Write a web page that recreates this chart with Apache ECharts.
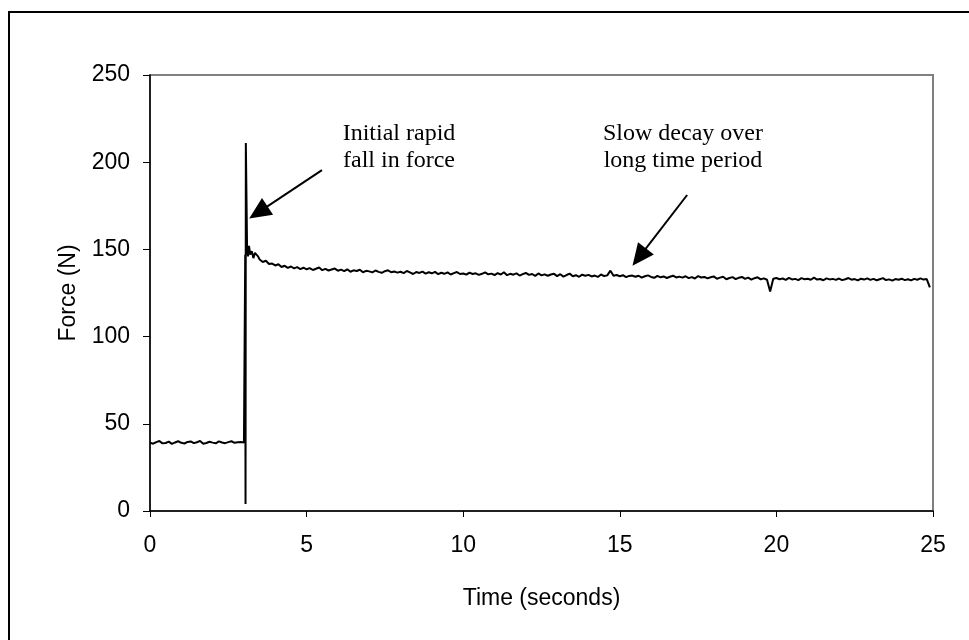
<!DOCTYPE html>
<html>
<head>
<meta charset="utf-8">
<script src="https://cdn.jsdelivr.net/npm/echarts@6/dist/echarts.min.js"></script>
<style>
html,body{margin:0;padding:0;background:#fff;}
#chart{width:969px;height:640px;}
</style>
</head>
<body>
<div id="chart"></div>
<script>
// ---- data ----
var xTicks = [0, 5, 10, 15, 20, 25];
var yTicks = [0, 50, 100, 150, 200, 250];

// baseline before loading (0 - 3.0 s)
var baseTimes = [0.0,0.1,0.2,0.3,0.4,0.5,0.6,0.7,0.8,0.9,1.0,1.1,1.2,1.3,1.4,1.5,1.6,1.7,1.8,1.9,2.0,2.1,2.2,2.3,2.4,2.5,2.6,2.7,2.8,2.9,3.0];
var baseForce = [39.2,38.6,39.5,40.1,38.8,39.0,39.8,38.5,39.3,40.0,39.1,38.7,39.6,39.9,38.9,39.4,40.2,38.6,39.0,39.7,39.2,38.8,39.9,39.3,38.9,39.5,40.0,39.1,39.4,39.6,39.3];

// loading spike and initial rapid fall
var spikeTimes = [3.03,3.04,3.05,3.06,3.10,3.13,3.16,3.20,3.25,3.30,3.35,3.40,3.45];
var spikeForce = [40.0,147.0,4.0,211.0,150.0,146.0,152.0,147.0,149.0,145.0,148.0,148.5,146.0];

// slow decay (3.5 - 24.9 s)
var decayTimes = [
3.5,3.6,3.7,3.8,3.9,
4.0,4.1,4.2,4.3,4.4,4.5,4.6,4.7,4.8,4.9,
5.0,5.1,5.2,5.3,5.4,5.5,5.6,5.7,5.8,5.9,
6.0,6.1,6.2,6.3,6.4,6.5,6.6,6.7,6.8,6.9,
7.0,7.1,7.2,7.3,7.4,7.5,7.6,7.7,7.8,7.9,
8.0,8.1,8.2,8.3,8.4,8.5,8.6,8.7,8.8,8.9,
9.0,9.1,9.2,9.3,9.4,9.5,9.6,9.7,9.8,9.9,
10.0,10.1,10.2,10.3,10.4,10.5,10.6,10.7,10.8,10.9,
11.0,11.1,11.2,11.3,11.4,11.5,11.6,11.7,11.8,11.9,
12.0,12.1,12.2,12.3,12.4,12.5,12.6,12.7,12.8,12.9,
13.0,13.1,13.2,13.3,13.4,13.5,13.6,13.7,13.8,13.9,
14.0,14.1,14.2,14.3,14.4,14.5,14.6,14.7,14.8,14.9,
15.0,15.1,15.2,15.3,15.4,15.5,15.6,15.7,15.8,15.9,
16.0,16.1,16.2,16.3,16.4,16.5,16.6,16.7,16.8,16.9,
17.0,17.1,17.2,17.3,17.4,17.5,17.6,17.7,17.8,17.9,
18.0,18.1,18.2,18.3,18.4,18.5,18.6,18.7,18.8,18.9,
19.0,19.1,19.2,19.3,19.4,19.5,19.6,19.7,19.8,19.9,
20.0,20.1,20.2,20.3,20.4,20.5,20.6,20.7,20.8,20.9,
21.0,21.1,21.2,21.3,21.4,21.5,21.6,21.7,21.8,21.9,
22.0,22.1,22.2,22.3,22.4,22.5,22.6,22.7,22.8,22.9,
23.0,23.1,23.2,23.3,23.4,23.5,23.6,23.7,23.8,23.9,
24.0,24.1,24.2,24.3,24.4,24.5,24.6,24.7,24.8,24.9];
var decayForce = [
144.2,142.8,143.5,141.6,141.9,
140.8,141.5,139.9,140.6,139.4,140.2,139.1,139.8,138.7,139.5,
138.6,139.3,138.2,138.9,139.6,138.1,138.8,137.9,138.5,139.0,
137.8,138.4,137.5,138.6,137.2,138.0,137.6,138.3,136.9,137.7,
137.4,136.8,137.9,137.1,136.6,137.5,138.0,136.9,137.3,136.7,
137.2,136.4,137.6,136.8,135.9,137.0,136.5,137.3,136.1,136.9,
136.3,137.1,135.8,136.6,136.0,136.8,135.6,136.4,137.0,135.9,
136.2,135.5,136.7,135.9,136.3,135.4,136.0,136.8,135.7,136.1,
135.3,136.4,135.6,136.9,135.2,136.0,135.5,136.3,135.0,135.8,
136.5,135.4,135.9,134.8,136.2,135.1,135.7,134.9,135.6,136.0,
134.7,135.8,134.4,135.3,136.1,134.6,135.2,134.3,135.5,134.9,
135.4,134.5,135.0,134.2,135.6,134.7,135.1,137.8,134.9,135.3,
134.6,135.2,134.1,134.8,135.0,134.3,134.9,133.8,134.6,135.1,
134.2,133.7,134.8,134.0,134.5,133.6,134.3,134.9,133.9,134.4,
133.8,134.6,133.5,134.1,133.3,134.7,133.9,134.2,133.4,134.0,
134.5,133.2,133.8,134.3,132.9,133.6,134.1,133.0,133.7,134.2,
133.1,133.8,132.7,133.5,134.0,132.8,133.4,132.6,125.8,133.2,
133.6,132.9,133.3,132.5,133.7,132.8,133.1,132.4,133.5,132.9,
133.2,132.6,133.8,132.7,133.0,132.3,133.4,132.8,133.1,132.5,
133.3,132.4,132.9,133.6,132.6,133.0,132.2,133.2,132.7,133.4,
132.5,133.1,132.3,132.9,133.5,132.4,132.8,132.1,133.0,132.6,
133.2,132.4,132.9,132.2,133.1,132.6,133.4,132.7,133.0,128.2];

// annotations: text and arrow end points in data units [time, force]
var note1Lines = ['Initial rapid', 'fall in force'];
var note2Lines = ['Slow decay over', 'long time period'];
var arrow1 = {from: [5.49, 195.5], to: [3.46, 171.2]};
var arrow2 = {from: [17.15, 181.2], to: [15.62, 145.6]};

// ---- build ----
function pairs(t, v) { var out = []; for (var i = 0; i < t.length; i++) out.push([t[i], v[i]]); return out; }
var seriesData = pairs(baseTimes, baseForce).concat(pairs(spikeTimes, spikeForce), pairs(decayTimes, decayForce));

var chart = echarts.init(document.getElementById('chart'), null, {renderer: 'canvas'});
var axisFont = {fontFamily: 'Liberation Sans, Arial, sans-serif', fontSize: 23, color: '#000'};

function arrowLine(a) {
  return [
    {coord: a.from, symbol: 'none'},
    {coord: a.to, symbol: 'triangle', symbolSize: [20, 22]}
  ];
}

chart.setOption({
  animation: false,
  backgroundColor: '#fff',
  grid: {left: 150, top: 75, right: 36, bottom: 129, show: true, borderColor: '#808080', borderWidth: 2, backgroundColor: 'transparent'},
  xAxis: {
    type: 'value', min: xTicks[0], max: xTicks[xTicks.length - 1], interval: 5,
    name: 'Time (seconds)', nameLocation: 'middle', nameGap: 76,
    nameTextStyle: axisFont,
    axisLine: {show: true, onZero: false, lineStyle: {color: '#000', width: 1.5}},
    axisTick: {show: true, inside: false, length: 6, lineStyle: {color: '#000', width: 1}},
    axisLabel: Object.assign({margin: 23}, axisFont),
    splitLine: {show: false}
  },
  yAxis: {
    type: 'value', min: yTicks[0], max: yTicks[yTicks.length - 1], interval: 50,
    name: 'Force (N)', nameLocation: 'middle', nameGap: 70,
    nameTextStyle: axisFont,
    axisLine: {show: true, onZero: false, lineStyle: {color: '#000', width: 1.5}},
    axisTick: {show: true, inside: false, length: 7, lineStyle: {color: '#000', width: 1}},
    axisLabel: Object.assign({margin: 20}, axisFont),
    splitLine: {show: false}
  },
  series: [{
    type: 'line',
    data: seriesData,
    showSymbol: false,
    symbol: 'none',
    lineStyle: {color: '#000', width: 2},
    markLine: {
      silent: true,
      animation: false,
      label: {show: false},
      lineStyle: {color: '#000', width: 2, type: 'solid'},
      data: [arrowLine(arrow1), arrowLine(arrow2)]
    }
  }]
});

// annotation texts (serif, like the reference)
var noteFont = '24px "Liberation Serif", "Times New Roman", serif';
chart.setOption({
  graphic: [
    {type: 'text', x: 399, y: 120, style: {text: note1Lines.join('\n'), font: noteFont, fill: '#000', lineHeight: 27, align: 'center', verticalAlign: 'top'}},
    {type: 'text', x: 683, y: 120, style: {text: note2Lines.join('\n'), font: noteFont, fill: '#000', lineHeight: 27, align: 'center', verticalAlign: 'top'}},
    {type: 'rect', shape: {x: 9, y: 12, width: 1200, height: 1200}, style: {fill: 'none', stroke: '#000', lineWidth: 2}, silent: true, z: -1}
  ]
});
</script>
</body>
</html>
